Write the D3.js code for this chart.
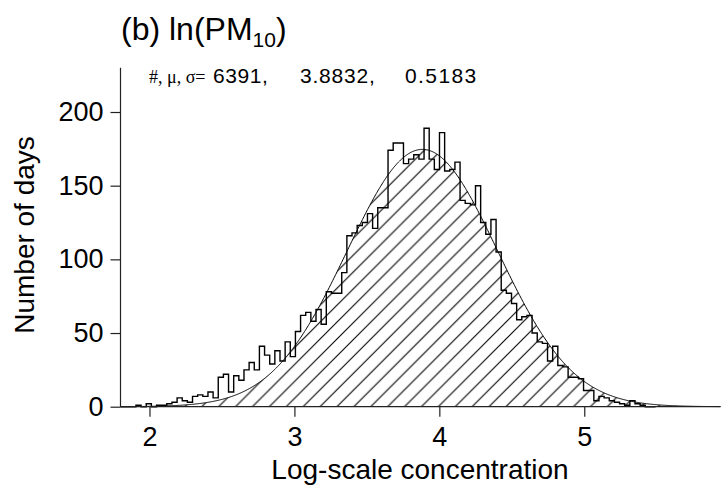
<!DOCTYPE html>
<html lang="en">
    <head>
        <meta charset="UTF-8">
        <title>ln(PM10) histogram</title>
        <script src="https://cdn.jsdelivr.net/npm/d3@7"></script>
        <style type="text/css">
            body {margin: 0; background: #fff; overflow: hidden;}
            text {font-family: "Liberation Sans", Arial, Helvetica, sans-serif; fill: #000;}
        </style>
    </head>
    <body>
        <svg id="chart" width="721" height="490"></svg>
        <script>
            // histogram of daily ln(PM10): counts per bin, bins start at 1.8, width 0.0355
            var binStart = 1.8;
            var binWidth = 0.0355;
            var counts = [
                0, 0, 0, 1, 0, 2, 0, 1, 1, 2,
                3, 6, 4, 3, 7, 8, 7, 10, 6, 20,
                22, 10, 21, 18, 25, 30, 25, 41, 35, 29,
                38, 31, 44, 34, 51, 62, 64, 58, 66, 56,
                78, 77, 77, 91, 116, 118, 123, 125, 131, 121,
                135, 135, 174, 179, 179, 165, 168, 171, 168, 189,
                168, 161, 186, 160, 161, 166, 140, 138, 137, 150,
                125, 117, 127, 105, 79, 77, 70, 59, 61, 62,
                50, 44, 43, 31, 41, 28, 27, 20, 20, 19,
                11, 11, 4, 7, 6, 4, 3, 2, 1, 4,
                2, 1, 0, 0
            ];
            // fitted normal shown in the header
            var nDays = 6391;
            var mu = 3.8832;
            var sigma = 0.5183;

            var xMajor = [2, 3, 4, 5];
            var yMajor = [0, 50, 100, 150, 200];

            var svg = d3.select('#chart');

            var x = d3.scaleLinear().domain([1.8, 5.94]).range([120.5, 720.5]);
            var y = d3.scaleLinear().domain([0, 230]).range([406.7, 67.8]);

            // hatch pattern, "/" lines at 45 deg
            var hs = 16.9;
            var pat = svg.append('defs').append('pattern')
                .attr('id', 'hatch')
                .attr('patternUnits', 'userSpaceOnUse')
                .attr('width', hs)
                .attr('height', hs);
            pat.append('path')
                .attr('d', 'M0,' + hs + 'L' + hs + ',0' +
                    'M-2,2L2,-2' +
                    'M' + (hs - 2) + ',' + (hs + 2) + 'L' + (hs + 2) + ',' + (hs - 2))
                .attr('stroke', '#000')
                .attr('stroke-width', 1.1);

            // fitted curve
            var scaleFit = nDays * binWidth / (sigma * Math.sqrt(2 * Math.PI));
            var xs = d3.range(1.8, 5.94, 0.005).concat([5.94]);
            var fit = xs.map(function(v) {
                return [v, scaleFit * Math.exp(-0.5 * Math.pow((v - mu) / sigma, 2))];
            });

            svg.append('path')
                .datum(fit)
                .attr('fill', 'url(#hatch)')
                .attr('d', d3.area().x(function(d) { return x(d[0]); }).y0(y(0)).y1(function(d) { return y(d[1]); }));

            svg.append('path')
                .datum(fit)
                .attr('fill', 'none')
                .attr('stroke', '#000')
                .attr('stroke-width', 1)
                .attr('d', d3.line().x(function(d) { return x(d[0]); }).y(function(d) { return y(d[1]); }));

            // histogram outline
            var steps = [[binStart, 0]];
            counts.forEach(function(c, i) {
                steps.push([binStart + i * binWidth, c]);
            });
            steps.push([binStart + counts.length * binWidth, 0]);
            svg.append('path')
                .datum(steps)
                .attr('fill', 'none')
                .attr('stroke', '#000')
                .attr('stroke-width', 1.4)
                .attr('d', d3.line().curve(d3.curveStepAfter).x(function(d) { return x(d[0]); }).y(function(d) { return y(d[1]); }));

            // axes
            var xMinor = d3.range(19, 60).map(function(v) { return v / 10; }).filter(function(v) { return xMajor.indexOf(v) < 0; });
            var yMinor = d3.range(10, 240, 10).filter(function(v) { return yMajor.indexOf(v) < 0; });

            var gx = svg.append('g').attr('transform', 'translate(0,' + y(0) + ')');
            gx.call(d3.axisBottom(x).tickValues(xMinor).tickSize(6).tickFormat(''));
            gx.call(d3.axisBottom(x).tickValues(xMajor).tickSize(10).tickPadding(10).tickFormat(d3.format('d')));
            gx.selectAll('.domain').remove();
            gx.append('line').attr('x1', x(1.8)).attr('x2', x(5.94)).attr('stroke', '#222').attr('stroke-width', 1.2);
            gx.selectAll('.tick line').attr('stroke', '#222').attr('stroke-width', 1.2);
            gx.selectAll('.tick text').attr('font-size', 27).attr('fill', '#000').style('font-family', '"Liberation Sans", Arial, sans-serif');

            var gy = svg.append('g').attr('transform', 'translate(' + x(1.8) + ',0)');
            gy.call(d3.axisLeft(y).tickValues(yMinor).tickSize(6).tickFormat(''));
            gy.call(d3.axisLeft(y).tickValues(yMajor).tickSize(10).tickPadding(7).tickFormat(d3.format('d')));
            gy.selectAll('.domain').remove();
            gy.append('line').attr('y1', y(0)).attr('y2', y(230)).attr('stroke', '#222').attr('stroke-width', 1.2);
            gy.selectAll('.tick line').attr('stroke', '#222').attr('stroke-width', 1.2);
            gy.selectAll('.tick text').attr('font-size', 27).attr('fill', '#000').style('font-family', '"Liberation Sans", Arial, sans-serif');

            // titles
            var title = svg.append('text').attr('x', 121).attr('y', 40).attr('font-size', 32);
            title.append('tspan').text('(b) ln(PM');
            title.append('tspan').attr('font-size', 21).attr('dy', 7).text('10');
            title.append('tspan').attr('dy', -7).text(')');

            var stats = svg.append('text').attr('y', 83).attr('font-size', 21);
            stats.append('tspan').attr('x', 149).attr('font-size', 18).style('font-family', '"Liberation Serif", "Times New Roman", serif').text('#, \u03bc, \u03c3=');
            stats.append('tspan').attr('x', 213).attr('letter-spacing', 0.6).text(nDays + ',');
            stats.append('tspan').attr('x', 300).attr('letter-spacing', 0.8).text(mu.toFixed(4) + ',');
            stats.append('tspan').attr('x', 405).attr('letter-spacing', 1.4).text(sigma.toFixed(4));

            svg.append('text')
                .attr('x', 420)
                .attr('y', 479)
                .attr('text-anchor', 'middle')
                .attr('font-size', 28)
                .text('Log-scale concentration');

            svg.append('text')
                .attr('transform', 'translate(34,235) rotate(-90)')
                .attr('text-anchor', 'middle')
                .attr('font-size', 28)
                .text('Number of days');
        </script>
    </body>
</html>
